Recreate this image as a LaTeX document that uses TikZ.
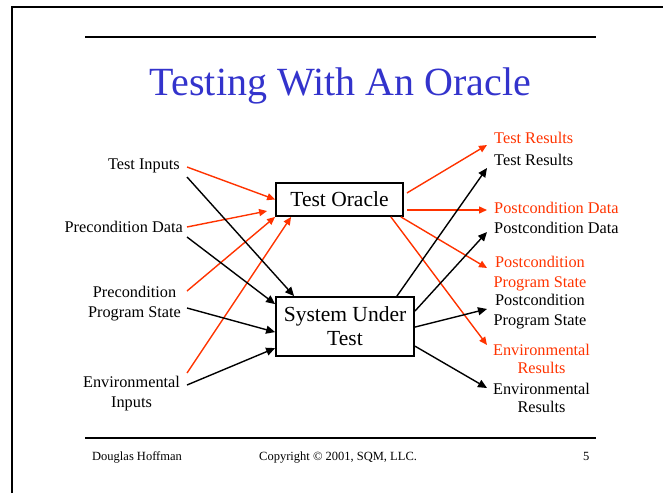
\documentclass[tikz,border=0pt]{standalone}
\usepackage{fontspec}
\setmainfont{Liberation Serif}
\usetikzlibrary{arrows.meta}
\definecolor{ored}{RGB}{255,51,0}
\definecolor{tblue}{RGB}{51,51,204}
\tikzset{
  lbl/.style={inner sep=0pt, font=\fontsize{16.3}{20}\selectfont, text=black},
  rlbl/.style={lbl, text=ored},
  box/.style={draw=black, line width=1.8pt, inner sep=0pt, font=\fontsize{21.5}{24}\selectfont, align=center},
  rarr/.style={draw=ored, line width=1.4pt, -{Triangle[length=8pt,width=7pt]}},
  barr/.style={draw=black, line width=1.4pt, -{Triangle[length=9pt,width=8pt]}},
  foot/.style={inner sep=0pt, font=\fontsize{12.5}{15}\selectfont, anchor=base west},
  rule/.style={line width=2pt}
}
\begin{document}
\begin{tikzpicture}[x=1pt,y=-1pt]
\useasboundingbox (0,0) rectangle (663,493);
% page frame
\draw[line width=1.5pt] (12,493) -- (12,7) -- (663,7);
% rules
\draw[rule] (85,37) -- (596,37);
\draw[rule] (85,438) -- (596,438);
% title
\node[inner sep=0pt, anchor=base, text=tblue, font=\fontsize{40}{48}\selectfont] (title) at (340.5,95) {Testing With An Oracle};
% boxes
\node[box, minimum width=127pt, minimum height=33pt] (to) at (339.5,199.5) {Test Oracle};
\node[box, minimum width=138pt, minimum height=59pt] (sut) at (345,326.5) {System Under\\Test};
% left labels (multi-line nodes: base = last line's baseline)
\node[lbl, anchor=base east] (ti) at (180,169) {Test Inputs};
\node[lbl, anchor=base east] (pd) at (183,232) {Precondition Data};
\node[lbl, align=center, anchor=base] (ps) at (134.5,317) {Precondition\\Program State};
\node[lbl, align=center, anchor=base] (ei) at (131.5,407) {Environmental\\Inputs};
% right labels
\node[rlbl, anchor=base west] (rtr) at (494,143) {Test Results};
\node[lbl, anchor=base west] (btr) at (494,165) {Test Results};
\node[rlbl, anchor=base west] (rpd) at (494,213) {Postcondition Data};
\node[lbl, anchor=base west] (bpd) at (494,233) {Postcondition Data};
\node[rlbl, align=center, anchor=base] (rps) at (540,287) {Postcondition\\Program State};
\node[lbl, align=center, anchor=base] (bps) at (540,325) {Postcondition\\Program State};
\node[rlbl, align=center, anchor=base, font=\fontsize{16.3}{18}\selectfont] (rer) at (541.5,373) {Environmental\\Results};
\node[lbl, align=center, anchor=base, font=\fontsize{16.3}{18}\selectfont] (ber) at (541.5,412) {Environmental\\Results};
% connector ends
\coordinate (s-ti-r) at (187,167);
\coordinate (s-ti-b) at (187,177);
\coordinate (s-pd-r) at (187,227);
\coordinate (s-pd-b) at (187,237);
\coordinate (s-ps-r) at (187,291);
\coordinate (s-ps-b) at (187,308);
\coordinate (s-ei-r) at (187,373);
\coordinate (s-ei-b) at (187,385);
\coordinate (e-rtr) at (487,145);
\coordinate (e-btr) at (487,168);
\coordinate (e-rpd) at (487,210);
\coordinate (e-bpd) at (487,232);
\coordinate (e-rps) at (487,268);
\coordinate (e-bps) at (487,309);
\coordinate (e-rer) at (487,345);
\coordinate (e-ber) at (487,388);
% left red arrows into oracle
\draw[rarr] (s-ti-r) -- (to.west);
\draw[rarr] (s-pd-r) -- ([xshift=-8pt,yshift=-11.5pt]to.west);
\draw[rarr] (s-ps-r) -- (to.south west);
\draw[rarr] (s-ei-r) -- ([xshift=16pt]to.south west);
% left black arrows into SUT
\draw[barr] (s-ti-b) -- ([xshift=19pt]sut.north west);
\draw[barr] (s-pd-b) -- ([yshift=-8pt]sut.north west);
\draw[barr] (s-ps-b) -- ([yshift=-36pt]sut.north west);
\draw[barr] (s-ei-b) -- ([yshift=-52pt]sut.north west);
% right red arrows from oracle
\draw[rarr] ([xshift=3pt,yshift=6.5pt]to.east) -- (e-rtr);
\draw[rarr] ([xshift=3pt,yshift=-10.5pt]to.east) -- (e-rpd);
\draw[rarr] ([xshift=-3pt]to.south east) -- (e-rps);
\draw[rarr] ([xshift=-13pt]to.south east) -- (e-rer);
% right black arrows from SUT
\draw[barr] ([xshift=-18pt]sut.north east) -- (e-btr);
\draw[barr] ([yshift=-15pt]sut.north east) -- (e-bpd);
\draw[barr] ([yshift=-31pt]sut.north east) -- (e-bps);
\draw[barr] ([yshift=-50pt]sut.north east) -- (e-ber);
% footer
\node[foot] (author) at (92,460) {Douglas Hoffman};
\node[foot] (copy) at (259,460) {Copyright © 2001, SQM, LLC.};
\node[foot] (page) at (583,460) {5};
\end{tikzpicture}
\end{document}
